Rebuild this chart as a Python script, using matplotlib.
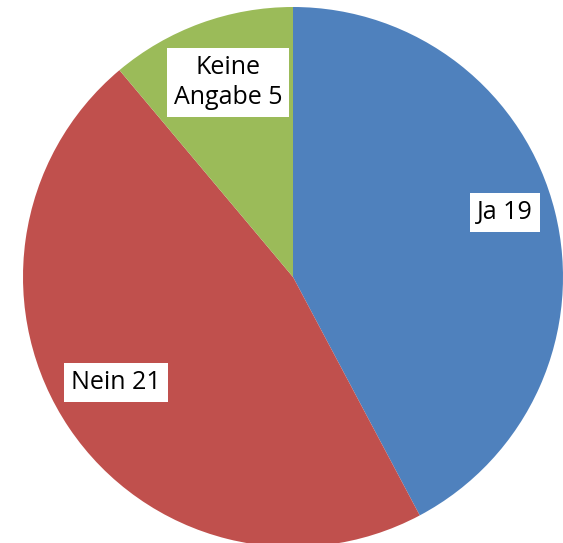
import matplotlib
matplotlib.use("Agg")
import matplotlib.pyplot as plt

labels = ["Ja", "Nein", "Keine\nAngabe"]
values = [19, 21, 5]
colors = ["#4F81BD", "#C0504D", "#9BBB59"]

# label centres in axes data units (pie radius = 1)
label_pos = [(0.785, 0.24), (-0.655, -0.39), (-0.24, 0.72)]

plt.rcParams['font.family'] = ['Open Sans', 'DejaVu Sans']

fig = plt.figure(figsize=(5.63, 5.43), dpi=100)
ax = fig.add_axes([23 / 563, (543 - 547) / 543, 540 / 563, 540 / 543])
ax.pie(values, colors=colors, startangle=90, counterclock=False, radius=1,
       wedgeprops=dict(linewidth=0))
ax.set_xlim(-1, 1)
ax.set_ylim(-1, 1)
ax.set_aspect('equal')
ax.axis('off')

for lab, v, (x, y) in zip(labels, values, label_pos):
    ax.text(x, y, f"{lab} {v}", ha='center', va='center', fontsize=18,
            color='black', linespacing=1.3,
            bbox=dict(facecolor='white', edgecolor='none', pad=5))

fig.savefig("out.png", dpi=100)
